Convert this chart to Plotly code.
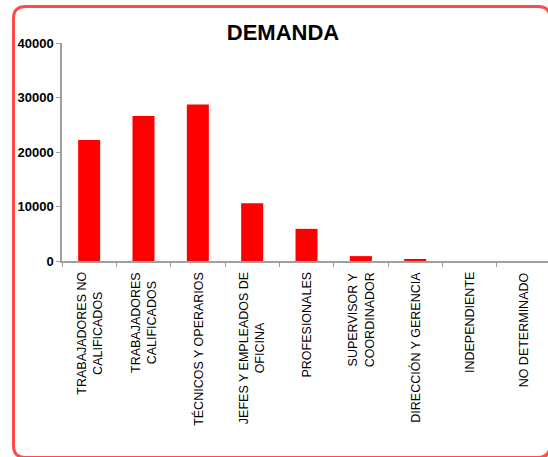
import plotly.graph_objects as go

categories = [
    "TRABAJADORES NO<br>CALIFICADOS",
    "TRABAJADORES<br>CALIFICADOS",
    "TÉCNICOS Y OPERARIOS",
    "JEFES Y EMPLEADOS DE<br>OFICINA",
    "PROFESIONALES",
    "SUPERVISOR Y<br>COORDINADOR",
    "DIRECCIÓN Y GERENCIA",
    "INDEPENDIENTE",
    "NO DETERMINADO",
]
values = [22200, 26600, 28700, 10600, 5900, 900, 300, 0, 0]
y_ticks = [0, 10000, 20000, 30000, 40000]

FONT = "Arial, Liberation Sans, sans-serif"
W_FIG, H_FIG = 548, 457
L, R, T, B = 62, 0, 43, 196
PW = W_FIG - L - R
PH = H_FIG - T - B
BOTTOM = H_FIG - B


def ppx(x):
    return (x - L) / PW


def ppy(y):
    return (BOTTOM - y) / PH


x0, y0, x1, y1, r = 13.5, 6.5, 550.0, 457.5, 12
path = (
    f"M {ppx(x0 + r)},{ppy(y0)} L {ppx(x1 - r)},{ppy(y0)} "
    f"Q {ppx(x1)},{ppy(y0)} {ppx(x1)},{ppy(y0 + r)} "
    f"L {ppx(x1)},{ppy(y1 - r)} Q {ppx(x1)},{ppy(y1)} {ppx(x1 - r)},{ppy(y1)} "
    f"L {ppx(x0 + r)},{ppy(y1)} Q {ppx(x0)},{ppy(y1)} {ppx(x0)},{ppy(y1 - r)} "
    f"L {ppx(x0)},{ppy(y0 + r)} Q {ppx(x0)},{ppy(y0)} {ppx(x0 + r)},{ppy(y0)} Z"
)

fig = go.Figure(
    go.Bar(
        x=categories,
        y=values,
        marker=dict(color="#FF0000", line=dict(width=0)),
    )
)

annotations = [
    dict(
        x=c,
        xref="x",
        y=ppy(270),
        yref="paper",
        text=c,
        textangle=-90,
        xanchor="center",
        yanchor="top",
        align="center",
        showarrow=False,
        font=dict(size=12.5, family=FONT, color="black"),
    )
    for c in categories
]

fig.update_layout(
    width=W_FIG,
    height=H_FIG,
    margin=dict(l=L, r=R, t=T, b=B, pad=0),
    paper_bgcolor="white",
    plot_bgcolor="white",
    bargap=0.595,
    showlegend=False,
    font=dict(family=FONT, color="black"),
    title=dict(
        text="<b>DEMANDA</b>",
        x=283 / W_FIG,
        xanchor="center",
        y=1 - 32.5 / H_FIG,
        yref="container",
        yanchor="middle",
        font=dict(size=22, family=FONT, color="black"),
    ),
    annotations=annotations,
    shapes=[
        dict(
            type="path",
            xref="paper",
            yref="paper",
            path=path,
            line=dict(color="#FF4A4A", width=3),
            fillcolor="rgba(0,0,0,0)",
            layer="above",
        )
    ],
)

fig.update_xaxes(
    type="category",
    range=[-0.5, 8.444],
    tickson="boundaries",
    ticks="outside",
    ticklen=4,
    tickcolor="#A0A0A0",
    showline=True,
    linecolor="#A0A0A0",
    linewidth=1.5,
    showgrid=False,
    showticklabels=False,
)

fig.update_yaxes(
    range=[0, 40000],
    tickvals=y_ticks,
    ticktext=[f"<b>{v}</b>" for v in y_ticks],
    ticks="outside",
    ticklen=4,
    tickcolor="#A0A0A0",
    showline=True,
    linecolor="#A0A0A0",
    linewidth=1.5,
    showgrid=False,
    zeroline=False,
    tickfont=dict(size=13, family=FONT, color="black"),
)

fig.write_html(
    "out.html",
    config={"displayModeBar": False},
    post_script="document.body.style.margin='0';document.body.style.overflow='hidden';",
)
